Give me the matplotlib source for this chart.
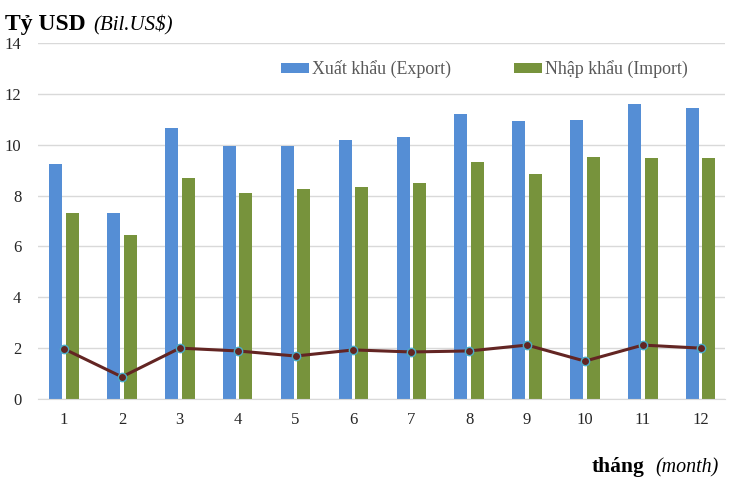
import matplotlib.pyplot as plt
import numpy as np

months = list(range(1, 13))
export = [9.24, 7.31, 10.66, 9.95, 9.95, 10.18, 10.30, 11.21, 10.93, 10.97, 11.60, 11.44]
imports = [7.31, 6.45, 8.69, 8.10, 8.26, 8.34, 8.49, 9.32, 8.85, 9.52, 9.48, 9.48]
balance = [1.97, 0.87, 2.00, 1.89, 1.69, 1.93, 1.85, 1.89, 2.12, 1.49, 2.12, 2.00]
yticks = [0, 2, 4, 6, 8, 10, 12, 14]

plt.rcParams['font.family'] = ['Liberation Serif', 'DejaVu Serif']

fig = plt.figure(figsize=(7.32, 4.83), dpi=100)
ax = fig.add_axes([38 / 732, 1 - 399 / 483, 687 / 732, 356 / 483])

x = np.array(months)
w = 0.225
ax.bar(x - w / 2 - 0.03, export, w, color='#558ED5', label='Xuất khẩu (Export)', zorder=2)
ax.bar(x + w / 2 + 0.03, imports, w, color='#77933C', label='Nhập khẩu (Import)', zorder=2)
ax.plot(x, balance, color='#632523', lw=2.2, marker='o', ms=6,
        markerfacecolor='#632523', markeredgecolor='#4BACC6', markeredgewidth=1, zorder=3)

ax.set_xlim(0.55, 12.42)
ax.set_ylim(0, 14)
ax.set_yticks(yticks)
ax.set_xticks(months)
ax.tick_params(length=0, labelsize=12, colors='#262626', pad=9)
ax.tick_params(axis='y', pad=12)
ax.grid(axis='y', color='#D9D9D9', lw=1, zorder=0)
for s in ['top', 'right', 'left']:
    ax.spines[s].set_visible(False)
ax.spines['bottom'].set_color('#D9D9D9')

ax.legend(loc='upper right', bbox_to_anchor=(0.946, 0.952), ncol=2, frameon=False,
          fontsize=12.9, labelcolor='#595959', handlelength=1.56, handleheight=0.5,
          handletextpad=0.17, columnspacing=3.5, borderaxespad=0, borderpad=0)

fig.text(5 / 732, 1 - 30 / 483, 'Tỷ USD', fontsize=17, fontweight='bold')
fig.text(93 / 732, 1 - 30 / 483, '(Bil.US$)', fontsize=15, fontstyle='italic')
fig.text(592 / 732, 1 - 472 / 483, 'tháng', fontsize=15.5, fontweight='bold')
fig.text(655 / 732, 1 - 472 / 483, '(month)', fontsize=14.4, fontstyle='italic')

fig.savefig('out.png', dpi=100)
